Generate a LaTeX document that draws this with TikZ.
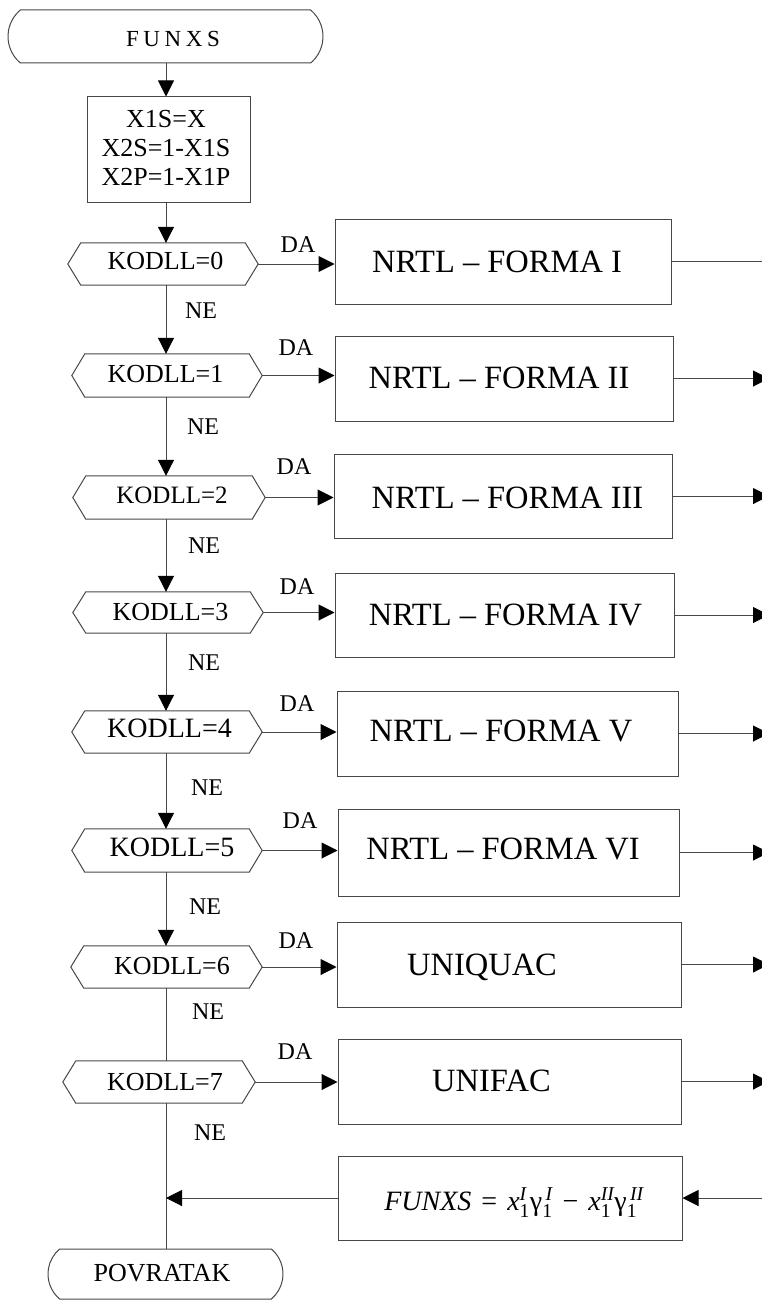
\documentclass[tikz,border=0pt]{standalone}
\usepackage{amsmath}
\usepackage{fontspec}
\setmainfont{Liberation Serif}
\usetikzlibrary{arrows.meta,shapes.misc}
\newcommand{\myfs}[1]{\fontsize{#1pt}{#1pt}\selectfont}
\begin{document}
\begin{tikzpicture}[x=1pt,y=-1pt,
  ln/.style={draw=black!72, line width=1pt},
  arr/.style={draw=black!72, line width=1pt, -{Triangle[length=16pt,width=16pt,color=black]}},
  hexnode/.style={draw=none, inner sep=0pt, minimum height=42pt},
  procbox/.style={ln, rectangle, inner sep=0pt},
  term/.style={ln, rounded rectangle, rounded rectangle arc length=100, inner sep=0pt},
  lbl/.style={inner sep=0pt, anchor=base},
  hextxt/.style={lbl, font=\myfs{26}},
  hexbig/.style={lbl, font=\myfs{28}},
  boxtxt/.style={lbl, font=\myfs{32.5}},
  small/.style={lbl, font=\myfs{24}},
  inittxt/.style={inner sep=0pt, align=center, font=\fontsize{26pt}{29pt}\selectfont}
]
\useasboundingbox (0,0) rectangle (762,1300);
\coordinate (spine) at (166,0);
\coordinate (rim) at (762,0);
\coordinate (rimA) at (769,0);

% terminators
\node[term, minimum width=315pt, minimum height=53pt] (funxs) at (165.5,36.5) {};
\node[lbl, font=\myfs{23}\addfontfeature{LetterSpace=20}] (funxsT) at (173,46.5) {FUNXS};
\node[term, minimum width=235pt, minimum height=50pt] (pov) at (165.5,1274) {};
\node[lbl, font=\myfs{26}] (povT) at (162,1281) {POVRATAK};

% init box
\node[procbox, minimum width=163pt, minimum height=105pt] (init) at (168.5,149.5) {};
\node[inittxt] (initT) at (166,148) {X1S=X\\X2S=1-X1S\\X2P=1-X1P};

% decision hexagons
\node[hexnode, minimum width=190pt] (h0) at (163,264) {};
\node[hexnode, minimum width=190pt, minimum height=43pt] (h1) at (167,375.5) {};
\node[hexnode, minimum width=192pt, minimum height=43pt] (h2) at (169,497.5) {};
\node[hexnode, minimum width=190pt, minimum height=41pt] (h3) at (168,612.5) {};
\node[hexnode, minimum width=190pt] (h4) at (167,732) {};
\node[hexnode, minimum width=190pt, minimum height=43pt] (h5) at (167,850.5) {};
\node[hexnode, minimum width=191pt] (h6) at (166.5,967) {};
\node[hexnode, minimum width=192pt] (h7) at (159,1082) {};
\foreach \h in {h0,h1,h2,h3,h4,h5,h6,h7}{
  \draw[ln] (\h.west) -- ([xshift=13pt]\h.north west) -- ([xshift=-13pt]\h.north east)
    -- (\h.east) -- ([xshift=-13pt]\h.south east) -- ([xshift=13pt]\h.south west) -- cycle;
}
\node[hextxt] (k0) at (165.5,269.5) {KODLL=0};
\node[hextxt] (k1) at (165.5,382.5) {KODLL=1};
\node[lbl, font=\myfs{25}] (k2) at (172,503) {KODLL=2};
\node[hextxt] (k3) at (170.5,620.5) {KODLL=3};
\node[hexbig] (k4) at (169.5,737.7) {KODLL=4};
\node[hexbig] (k5) at (172,856.7) {KODLL=5};
\node[hextxt] (k6) at (172,974.5) {KODLL=6};
\node[hextxt] (k7) at (165,1090.5) {KODLL=7};

% process boxes
\node[procbox, minimum width=336pt, minimum height=85pt] (b0) at (503,261.5) {};
\node[procbox, minimum width=338pt, minimum height=85pt] (b1) at (504,378.5) {};
\node[procbox, minimum width=338pt, minimum height=84pt] (b2) at (503,496) {};
\node[procbox, minimum width=339pt, minimum height=84pt] (b3) at (504.5,615) {};
\node[procbox, minimum width=341pt, minimum height=85pt] (b4) at (507.5,733.5) {};
\node[procbox, minimum width=341pt, minimum height=87pt] (b5) at (508.5,852.5) {};
\node[procbox, minimum width=344pt, minimum height=85pt] (b6) at (509,964.5) {};
\node[procbox, minimum width=343pt, minimum height=85pt] (b7) at (509.5,1081.5) {};
\node[procbox, minimum width=344pt, minimum height=84pt] (fb) at (510,1198) {};

\node[boxtxt] (t0) at (497,272.7) {NRTL – FORMA I};
\node[boxtxt] (t1) at (499,388.7) {NRTL – FORMA II};
\node[boxtxt] (t2) at (507.5,508.2) {NRTL – FORMA III};
\node[boxtxt] (t3) at (505.5,625.7) {NRTL – FORMA IV};
\node[boxtxt] (t4) at (501,741.7) {NRTL – FORMA V};
\node[boxtxt] (t5) at (503,859.7) {NRTL – FORMA VI};
\node[boxtxt] (t6) at (482,975.7) {UNIQUAC};
\node[boxtxt] (t7) at (491.5,1091.7) {UNIFAC};
\node[lbl, font=\myfs{28}] (ft) at (514,1210)
  {\textit{FUNXS}\hspace{3pt} = \hspace{3pt}\textit{x}$_{\text{1}}^{\text{\itshape I}}$γ$_{\text{1}}^{\text{\itshape\,I}}$\hspace{3pt} − \hspace{3pt}\textit{x}$_{\text{1}}^{\text{\itshape II}}$γ$_{\text{1}}^{\text{\itshape\,II}}$};

% DA / NE labels
\node[small] (da0) at (298,252.9) {DA};
\node[small] (da1) at (296,355.9) {DA};
\node[small] (da2) at (294,474.9) {DA};
\node[small] (da3) at (297,594.9) {DA};
\node[small] (da4) at (297,711.9) {DA};
\node[small] (da5) at (300,828.9) {DA};
\node[small] (da6) at (296,948.9) {DA};
\node[small] (da7) at (295,1059.9) {DA};
\node[small] (ne0) at (201,318.9) {NE};
\node[small] (ne1) at (203,434.9) {NE};
\node[small] (ne2) at (204,553.9) {NE};
\node[small] (ne3) at (204,670.9) {NE};
\node[small] (ne4) at (207,795.9) {NE};
\node[small] (ne5) at (205,914.9) {NE};
\node[small] (ne6) at (208,1019.9) {NE};
\node[small] (ne7) at (210,1140.9) {NE};

% connectors: spine
\draw[arr] (funxs.south -| spine) -- (init.north -| spine);
\draw[arr] (init.south -| spine) -- (h0.north -| spine);
\draw[arr] (h0.south -| spine) -- (h1.north -| spine);
\draw[arr] (h1.south -| spine) -- (h2.north -| spine);
\draw[arr] (h2.south -| spine) -- (h3.north -| spine);
\draw[arr] (h3.south -| spine) -- (h4.north -| spine);
\draw[arr] (h4.south -| spine) -- (h5.north -| spine);
\draw[arr] (h5.south -| spine) -- (h6.north -| spine);
\draw[ln] (h6.south -| spine) -- (h7.north -| spine);
\draw[ln] (h7.south -| spine) -- (pov.north -| spine);

% DA branches
\draw[arr] (h0.east) -- (h0.east -| b0.west);
\draw[arr] (h1.east) -- (h1.east -| b1.west);
\draw[arr] (h2.east) -- (h2.east -| b2.west);
\draw[arr] (h3.east) -- (h3.east -| b3.west);
\draw[arr] (h4.east) -- (h4.east -| b4.west);
\draw[arr] (h5.east) -- (h5.east -| b5.west);
\draw[arr] (h6.east) -- (h6.east -| b6.west);
\draw[arr] (h7.east) -- (h7.east -| b7.west);

% outputs to the right edge
\draw[ln] (b0.east) -- (b0.east -| rim);
\draw[arr] (b1.east) -- (b1.east -| rimA);
\draw[arr] (b2.east) -- (b2.east -| rimA);
\draw[arr] (b3.east) -- (b3.east -| rimA);
\draw[arr] (b4.east) -- (b4.east -| rimA);
\draw[arr] (b5.east) -- (b5.east -| rimA);
\draw[arr] (b6.east) -- (b6.east -| rimA);
\draw[arr] (b7.east) -- (b7.east -| rimA);

% return path
\draw[arr] (fb.east -| rim) -- (fb.east);
\draw[arr] (fb.west) -- (fb.west -| spine);
\end{tikzpicture}
\end{document}
